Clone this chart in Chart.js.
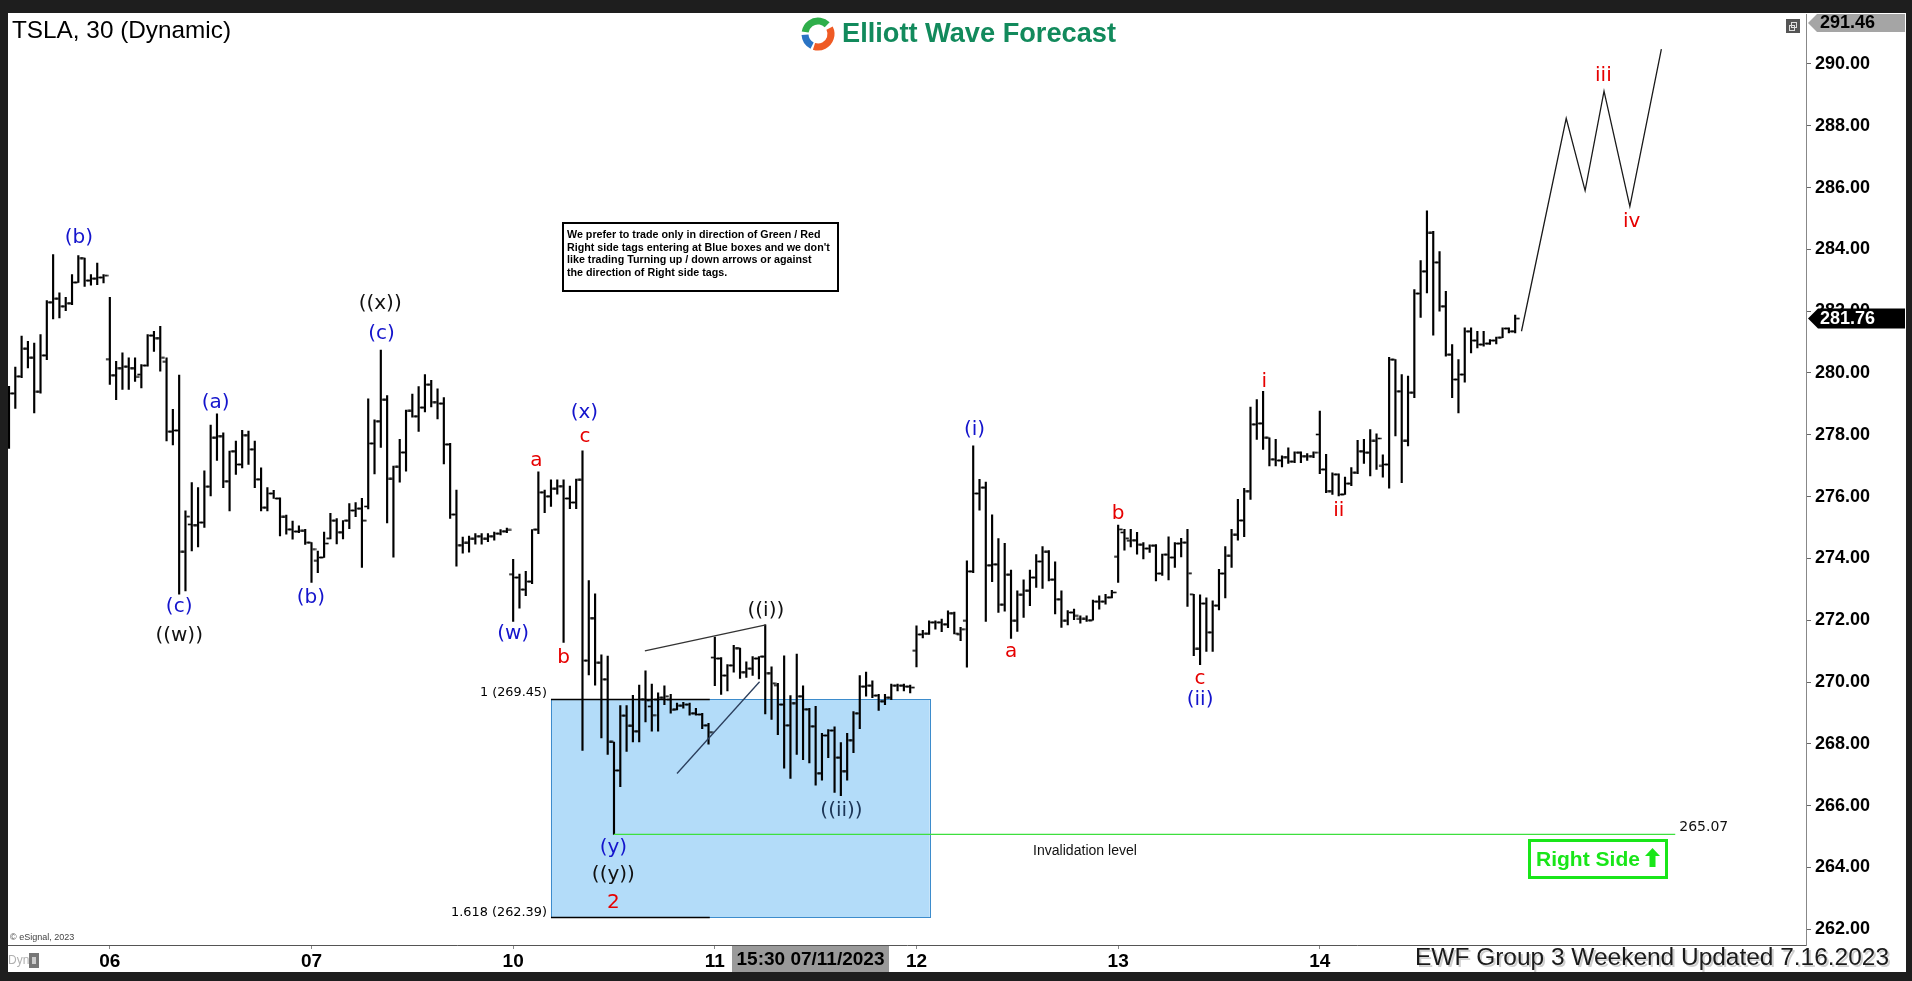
<!DOCTYPE html>
<html><head><meta charset="utf-8">
<script src="https://cdn.jsdelivr.net/npm/chart.js@4.4.0/dist/chart.umd.min.js"></script>
<style>html,body{margin:0;padding:0;background:#1e1e1e;overflow:hidden}canvas{display:block}</style>
</head><body>
<canvas id="c" width="1912" height="981"></canvas>
<script>
// ---- data (30-min bars, TSLA) ----
const opens = [277.98,279.34,279.89,280.78,280.49,279.39,280.57,282.29,282.40,282.16,
282.26,282.93,283.72,282.99,283.05,283.09,280.45,279.93,280.16,280.20,
280.16,279.95,280.24,281.21,281.13,280.36,278.10,278.14,274.21,275.10,
275.08,275.16,276.32,277.90,277.96,276.50,277.47,277.04,277.99,277.53,
276.56,275.64,276.10,275.94,275.34,274.94,274.87,274.89,274.51,273.92,
274.03,274.65,275.22,274.85,275.22,275.55,275.61,275.68,277.72,278.44,
279.13,276.57,276.96,277.43,278.77,278.60,278.88,279.62,279.06,279.01,
277.69,275.42,274.43,274.50,274.63,274.72,274.63,274.72,274.80,274.88,
273.49,273.38,272.99,273.25,274.93,276.14,276.01,276.25,276.34,275.94,
275.81,276.54,270.69,272.07,270.62,270.09,268.06,267.14,268.91,268.58,
268.41,269.44,269.21,269.43,269.49,269.43,269.12,269.23,269.27,268.99,
268.95,268.60,270.79,270.76,270.21,270.54,271.10,270.32,270.43,270.76,
270.82,270.29,269.90,269.27,268.60,269.32,269.54,269.12,268.57,267.05,
268.27,268.43,267.55,267.12,268.12,268.99,269.85,269.88,269.56,269.38,
269.49,269.88,269.88,269.85,271.01,271.54,271.56,271.93,271.93,271.87,
272.23,271.55,271.98,273.58,276.10,276.29,273.78,273.81,272.50,273.47,
271.98,272.82,272.95,273.38,273.90,274.21,273.31,272.68,271.98,272.25,
272.04,272.04,272.00,272.60,272.60,272.74,274.05,274.84,274.57,274.59,
274.44,274.32,274.41,273.51,274.12,274.03,274.48,274.51,272.84,271.07,
272.54,271.61,272.47,273.51,274.08,274.76,275.23,276.18,278.34,278.37,
277.90,277.21,277.17,277.28,277.13,277.42,277.31,277.31,278.01,276.88,
276.18,276.72,276.07,276.42,276.77,277.47,277.42,277.80,276.99,277.04,
280.43,279.41,277.80,279.36,282.57,283.29,284.53,283.58,282.16,280.59,
279.79,279.95,281.35,281.05,280.92,280.95,281.05,281.14,281.44,281.35];
const highs = [279.57,280.19,281.19,281.02,280.97,281.24,282.34,283.83,282.59,282.45,
283.18,283.80,283.72,283.18,283.56,283.18,282.45,280.38,280.65,280.49,
280.49,280.27,281.24,281.35,281.51,280.49,278.82,279.93,275.54,276.45,
276.29,276.83,278.31,278.68,278.06,277.47,277.80,278.14,278.12,277.80,
276.93,276.29,276.20,275.96,275.40,275.21,275.05,274.94,274.51,274.24,
274.85,275.46,275.29,275.22,275.77,275.81,275.94,279.16,278.48,280.74,
279.27,276.99,277.85,278.80,279.32,279.56,279.95,279.76,279.49,279.20,
277.72,276.21,274.69,274.72,274.80,274.80,274.80,274.85,274.93,274.98,
273.97,273.49,273.58,274.93,276.80,276.21,276.54,276.54,276.54,276.34,
276.57,277.48,273.28,272.85,270.88,270.84,268.06,269.24,269.24,269.57,
269.90,270.36,269.93,269.65,269.88,269.60,269.32,269.34,269.32,269.15,
268.99,268.66,271.45,270.79,270.56,271.19,271.10,270.65,270.82,270.82,
271.85,270.49,269.96,270.85,269.56,270.90,269.88,269.15,269.21,268.34,
268.46,268.55,268.04,268.34,269.04,270.21,270.32,270.04,269.60,269.60,
269.93,269.93,269.93,269.90,271.82,271.67,271.98,271.98,272.04,272.30,
272.26,271.77,273.92,277.64,276.56,276.47,275.41,274.64,274.49,273.62,
272.95,273.31,273.62,274.12,274.38,274.25,273.89,272.95,272.31,272.36,
272.14,272.14,272.65,272.79,272.84,272.97,275.08,274.94,274.94,274.84,
274.51,274.44,274.45,274.14,274.70,274.51,274.65,274.94,272.84,272.82,
272.72,272.63,273.65,274.38,274.94,275.91,276.27,278.90,279.14,279.41,
277.90,277.85,277.32,277.58,277.45,277.45,277.39,277.45,278.77,277.37,
276.77,276.74,276.63,276.94,277.82,277.85,278.17,278.03,277.35,280.51,
280.43,279.95,279.90,282.70,283.64,285.25,284.58,283.93,282.64,280.92,
280.43,281.46,281.46,281.35,281.35,281.08,281.16,281.46,281.46,281.87];
const lows = [277.56,278.85,279.85,280.16,278.71,279.35,280.43,281.75,281.78,282.02,
282.21,282.93,282.80,282.84,282.86,282.91,279.63,279.14,279.47,279.47,
279.73,279.52,280.22,280.70,280.06,277.80,277.67,272.84,272.95,274.24,
274.37,275.00,276.02,277.17,276.29,275.54,276.72,276.93,277.04,276.29,
275.54,275.54,275.94,274.73,274.78,274.62,274.83,274.45,273.22,273.54,
274.03,274.63,274.47,274.63,274.96,275.35,273.71,275.60,276.73,277.59,
275.15,274.04,276.47,276.82,278.57,278.11,278.74,278.90,278.51,277.06,
275.29,273.75,274.17,274.20,274.46,274.46,274.54,274.59,274.76,274.83,
271.96,272.39,272.79,273.18,274.80,275.48,275.68,276.08,271.28,275.61,
275.61,267.79,270.23,269.90,268.19,267.66,265.07,266.61,267.75,268.06,
268.06,268.71,268.41,268.41,269.27,268.99,269.10,269.15,268.93,268.93,
268.49,267.99,269.88,269.60,269.71,270.32,270.12,270.15,270.21,270.10,
268.97,268.79,268.30,267.21,266.88,267.66,267.49,267.38,266.66,266.82,
267.55,266.43,266.32,266.82,267.71,268.49,269.54,269.49,269.08,269.27,
269.43,269.71,269.71,269.65,270.49,271.43,271.54,271.71,271.63,271.76,
271.56,271.34,270.48,273.54,275.56,271.96,273.25,272.25,272.29,271.41,
271.64,272.09,272.47,273.06,273.03,273.27,272.20,271.77,271.85,272.02,
271.90,271.96,272.00,272.36,272.52,272.72,273.22,274.27,274.37,274.14,
273.98,274.19,273.27,273.45,273.30,273.71,274.05,272.45,270.85,270.56,
270.99,270.99,272.33,272.72,273.71,274.59,274.70,275.91,277.85,277.53,
276.99,276.99,276.96,277.07,277.10,277.10,277.17,277.26,276.74,276.13,
276.07,276.02,276.07,276.35,276.74,277.07,276.67,276.88,276.63,276.27,
277.96,276.45,277.64,279.20,281.80,282.59,281.22,282.00,280.54,279.20,
278.71,279.70,280.65,280.81,280.87,280.92,280.94,281.14,281.30,281.30];
const closes = [279.34,279.89,280.78,280.49,279.39,280.57,282.29,282.40,282.16,282.26,
282.93,283.72,282.99,283.05,283.09,283.15,279.93,280.16,280.20,280.16,
279.87,280.24,281.21,281.13,280.49,278.10,278.14,274.21,275.35,275.08,
275.16,276.32,277.90,277.96,276.50,277.47,277.04,277.99,277.53,276.56,
275.64,276.10,275.94,275.34,274.94,274.87,274.89,274.51,274.30,274.03,
274.48,275.22,274.85,275.22,275.55,275.61,275.22,277.72,278.44,279.13,
276.57,276.96,277.43,278.77,278.60,278.88,279.62,279.06,279.01,277.69,
275.42,274.43,274.50,274.63,274.72,274.63,274.72,274.80,274.88,274.92,
273.38,272.99,273.25,274.93,276.14,276.01,276.25,276.34,275.94,275.81,
276.54,270.69,272.07,270.62,270.09,268.06,267.14,268.91,268.58,268.41,
269.44,269.40,268.93,269.49,269.54,269.10,269.23,269.27,268.99,268.95,
268.60,268.38,270.76,270.21,270.54,271.10,270.32,270.43,270.76,270.82,
270.29,269.96,269.27,268.60,269.32,269.54,269.12,268.57,267.05,268.27,
268.43,267.55,267.12,268.12,268.99,269.85,269.88,269.56,269.38,269.49,
269.88,269.88,269.85,269.82,271.54,271.56,271.93,271.93,271.87,272.23,
271.56,271.71,273.58,276.10,276.29,273.78,273.81,272.50,273.47,271.98,
272.82,272.95,273.38,273.90,274.21,273.31,272.68,271.98,272.25,272.14,
272.04,272.00,272.60,272.60,272.74,272.90,274.94,274.65,274.59,274.44,
274.32,274.41,273.51,274.12,274.03,274.48,274.51,273.52,271.07,272.54,
271.61,272.47,273.51,274.08,274.76,275.23,276.18,278.34,278.37,277.90,
277.21,277.17,277.28,277.13,277.42,277.31,277.31,277.42,276.88,276.18,
276.72,276.07,276.42,276.77,277.47,277.42,277.80,277.88,277.04,280.43,
279.41,277.80,279.36,282.57,283.29,284.53,283.58,282.16,280.59,279.79,
279.95,281.35,281.05,280.92,280.95,281.05,281.14,281.44,281.35,281.76];

const dayIndex = [16, 48, 80, 112, 144, 176, 208];
const dayLabels = ['06', '07', '10', '11', '12', '13', '14'];
const priceTicks = [262,264,266,268,270,272,274,276,278,280,282,284,286,288,290];

// projected path (bar index, price)
const projX = [240, 247.1, 250.1, 253.1, 257.2, 262.2];
const projY = [281.35, 288.24, 285.90, 289.12, 285.39, 290.48];

const invalidationLevel = 265.07;
const invalidationFrom = 96, invalidationTo = 264.4;
const boxTop = 269.45, boxBottom = 262.39, boxFrom = 86, boxTo = 146.1, fibLineTo = 111.2;
const tri1X = [100.9, 120.1], tri1Y = [271.01, 271.85];
const tri2X = [106.0, 119.1], tri2Y = [267.04, 270.01];
const lastPrice = 281.76, topPrice = 291.46;

// wave labels
const waveText = ['(b)','(c)','((w))','(a)','(b)','((x))','(c)','(w)','a','b','(x)','c','(y)','((y))','2','((i))','((ii))','(i)','a','b','c','(ii)','i','ii','iii','iv'];
const waveX = [11.1,27.0,27.0,32.8,47.9,58.9,59.1,80.0,83.7,88.0,91.3,91.4,95.9,95.9,95.9,120.1,132.1,153.2,159.0,176.0,189.0,189.0,199.2,211.0,253.0,257.5];
const waveY = [284.37,272.44,271.49,279.05,272.71,282.24,281.26,271.57,277.16,270.78,278.70,277.95,264.63,263.77,262.86,272.32,265.82,278.15,270.98,275.43,270.11,269.44,279.72,275.55,289.61,284.88];
const waveKind = ['B','B','K','B','B','K','B','B','R','R','B','R','B','K','R','K','N','B','R','R','R','B','R','R','R','R'];
const kindColor = {B:'#1414cc', R:'#e60000', K:'#111111', N:'#1c3556'};

// ---- point styles for open/close ticks ----
function tickCanvas(left){
  const cv = document.createElement('canvas'); cv.width = 10; cv.height = 3;
  const g = cv.getContext('2d');
  const x0 = left ? 1 : 6;
  g.fillStyle = 'rgba(0,0,0,0.3)'; g.fillRect(x0, 0, 3.5, 3);
  g.fillStyle = '#000'; g.fillRect(x0, 1, 3.5, 1);
  return cv;
}
const leftTick = tickCanvas(true), rightTick = tickCanvas(false);

function fitSize(ctx, text, width, weight, family){
  ctx.font = weight + ' 100px ' + family;
  return 100 * width / ctx.measureText(text).width;
}

const deco = {
  id: 'deco',
  beforeDraw(chart){
    const c = chart.ctx; c.save();
    c.fillStyle = '#1e1e1e'; c.fillRect(0,0,1912,981);
    c.fillStyle = '#ffffff'; c.fillRect(8,13,1898,959);
    c.restore();
  },
  beforeDatasetsDraw(chart){
    const c = chart.ctx, xs = chart.scales.x, ys = chart.scales.y;
    c.save();
    const x1 = xs.getPixelForValue(boxFrom), x2 = xs.getPixelForValue(boxTo);
    const y1 = ys.getPixelForValue(boxTop), y2 = ys.getPixelForValue(boxBottom);
    c.fillStyle = '#b3dcf9'; c.fillRect(x1, y1, x2-x1, y2-y1);
    c.strokeStyle = '#3d8ccc'; c.lineWidth = 1; c.strokeRect(Math.round(x1)+0.5, Math.round(y1)+0.5, Math.round(x2-x1), Math.round(y2-y1));
    const xf = xs.getPixelForValue(fibLineTo);
    c.strokeStyle = '#000'; c.lineWidth = 1.5;
    c.beginPath(); c.moveTo(x1, Math.round(y1)+0.5); c.lineTo(xf, Math.round(y1)+0.5);
    c.moveTo(x1, Math.round(y2)+0.5); c.lineTo(xf, Math.round(y2)+0.5); c.stroke();
    c.fillStyle = '#000'; c.textAlign = 'right'; c.textBaseline = 'alphabetic';
    let s = fitSize(c, '1 (269.45)', 67, 'normal', '"DejaVu Sans"');
    c.font = s.toFixed(2) + 'px "DejaVu Sans"'; c.fillText('1 (269.45)', x1 - 4, y1 - 3);
    s = fitSize(c, '1.618 (262.39)', 96, 'normal', '"DejaVu Sans"');
    c.font = s.toFixed(2) + 'px "DejaVu Sans"'; c.fillText('1.618 (262.39)', x1 - 4, y2 - 1);
    c.restore();
  },
  afterDatasetsDraw(chart){
    const c = chart.ctx, xs = chart.scales.x, ys = chart.scales.y;
    c.save();
    c.textAlign = 'center'; c.textBaseline = 'middle';
    c.font = '20px "DejaVu Sans"';
    for (let k = 0; k < waveText.length; k++){
      c.fillStyle = kindColor[waveKind[k]];
      c.fillText(waveText[k], xs.getPixelForValue(waveX[k]), ys.getPixelForValue(waveY[k]));
    }
    // invalidation texts
    c.fillStyle = '#111'; c.textAlign = 'left'; c.textBaseline = 'alphabetic';
    c.font = '14px "DejaVu Sans"';
    c.fillText('265.07', xs.getPixelForValue(invalidationTo) + 4, ys.getPixelForValue(invalidationLevel) - 3);
    c.textAlign = 'center';
    let s = fitSize(c, 'Invalidation level', 104, 'normal', '"Liberation Sans"');
    c.font = s.toFixed(2) + 'px "Liberation Sans"';
    c.fillText('Invalidation level', 1085, 855);
    // Right side box
    c.strokeStyle = '#19e619'; c.lineWidth = 3;
    c.strokeRect(1529.5, 840.5, 137, 37);
    c.fillStyle = '#19e619'; c.textAlign = 'left'; c.textBaseline = 'middle';
    s = fitSize(c, 'Right Side', 104, 'bold', '"Liberation Sans Narrow", "Liberation Sans"');
    c.font = 'bold ' + s.toFixed(2) + 'px "Liberation Sans Narrow", "Liberation Sans"';
    c.fillText('Right Side', 1536, 860);
    c.beginPath();
    c.moveTo(1652.5, 848); c.lineTo(1660, 856); c.lineTo(1655.5, 856); c.lineTo(1655.5, 867);
    c.lineTo(1649.5, 867); c.lineTo(1649.5, 856); c.lineTo(1645, 856); c.closePath(); c.fill();
    c.restore();
  },
  afterDraw(chart){
    const c = chart.ctx, ys = chart.scales.y;
    c.save();
    // title
    c.fillStyle = '#000'; c.textAlign = 'left'; c.textBaseline = 'middle';
    let s = fitSize(c, 'TSLA, 30 (Dynamic)', 219, 'normal', '"Liberation Sans"');
    c.font = s.toFixed(2) + 'px "Liberation Sans"'; c.fillText('TSLA, 30 (Dynamic)', 12, 31);
    // logo
    const cx = 818, cy = 34, r = 13;
    c.lineWidth = 7; c.lineCap = 'butt';
    c.strokeStyle = '#2fae4a'; c.beginPath(); c.arc(cx, cy, r, Math.PI*1.05, Math.PI*1.75); c.stroke();
    c.strokeStyle = '#ef5a24'; c.beginPath(); c.arc(cx, cy, r, Math.PI*1.85, Math.PI*2.6); c.stroke();
    c.strokeStyle = '#2a73c4'; c.beginPath(); c.arc(cx, cy, r, Math.PI*0.65, Math.PI*0.98); c.stroke();
    c.fillStyle = '#128a5c';
    s = fitSize(c, 'Elliott Wave Forecast', 274, 'bold', '"Liberation Sans"');
    c.font = 'bold ' + s.toFixed(2) + 'px "Liberation Sans"'; c.fillText('Elliott Wave Forecast', 842, 34);
    // notice box
    c.fillStyle = '#fff'; c.fillRect(562, 222, 277, 70);
    c.strokeStyle = '#000'; c.lineWidth = 2; c.strokeRect(563, 223, 275, 68);
    c.fillStyle = '#000';
    const lines = ['We prefer to trade only in direction of Green / Red','Right side tags entering at Blue boxes and we don\'t','like trading Turning up / down arrows or against','the direction of Right side tags.'];
    s = fitSize(c, lines[1], 263, 'bold', '"Liberation Sans"');
    c.font = 'bold ' + s.toFixed(2) + 'px "Liberation Sans"';
    lines.forEach((t, k) => c.fillText(t, 567, 235 + k*12.6));
    // small window icon
    c.fillStyle = '#555'; c.fillRect(1786, 19, 14, 14);
    c.strokeStyle = '#ddd'; c.lineWidth = 1; c.strokeRect(1789.5, 25.5, 5, 5); c.strokeRect(1791.5, 22.5, 5, 5);
    // top price marker
    c.fillStyle = '#a5a5a5';
    c.beginPath(); c.moveTo(1808, 23); c.lineTo(1817, 14); c.lineTo(1905, 14); c.lineTo(1905, 32); c.lineTo(1817, 32); c.closePath(); c.fill();
    c.fillStyle = '#000'; c.font = 'bold 18px "Liberation Sans"'; c.textAlign = 'left';
    c.fillText(topPrice.toFixed(2), 1820, 23.5);
    // last price marker
    const yl = ys.getPixelForValue(lastPrice);
    c.fillStyle = '#000';
    c.beginPath(); c.moveTo(1808, yl); c.lineTo(1818, yl-10); c.lineTo(1905, yl-10); c.lineTo(1905, yl+10); c.lineTo(1818, yl+10); c.closePath(); c.fill();
    c.fillStyle = '#fff'; c.fillText(lastPrice.toFixed(2), 1820, yl + 0.5);
    // crosshair time label
    c.fillStyle = '#9a9a9a'; c.fillRect(732, 946, 157, 26);
    c.fillStyle = '#000'; c.textAlign = 'center';
    s = fitSize(c, '15:30 07/11/2023', 148, 'bold', '"Liberation Sans Narrow", "Liberation Sans"');
    c.font = 'bold ' + s.toFixed(2) + 'px "Liberation Sans Narrow", "Liberation Sans"';
    c.fillText('15:30 07/11/2023', 810.5, 960);
    // esignal + dyn
    c.textAlign = 'left'; c.fillStyle = '#444'; c.font = '9px "Liberation Sans"';
    c.fillText('\u00A9 eSignal, 2023', 10, 938);
    c.fillStyle = '#b0b0b0'; c.font = '12px "Liberation Sans Narrow", "Liberation Sans"';
    c.fillText('Dyn', 8, 961);
    c.fillStyle = '#777'; c.fillRect(29, 953, 10, 15);
    c.fillStyle = '#ccc'; c.fillRect(32, 957, 4, 7);
    // bottom banner
    c.textAlign = 'right';
    s = fitSize(c, 'EWF Group 3 Weekend Updated 7.16.2023', 474, 'normal', '"Liberation Sans"');
    c.font = s.toFixed(2) + 'px "Liberation Sans"';
    c.fillStyle = '#cfcfcf'; c.fillText('EWF Group 3 Weekend Updated 7.16.2023', 1891, 960);
    c.fillStyle = '#1a1a1a'; c.fillText('EWF Group 3 Weekend Updated 7.16.2023', 1889, 958);
    c.restore();
  }
};

const barData = highs.map((h, i) => ({x: i, y: [Math.min(lows[i], opens[i], closes[i]), Math.max(h, opens[i], closes[i])]}));
const openData = opens.map((v, i) => ({x: i, y: v}));
const closeData = closes.map((v, i) => ({x: i, y: v}));
const projData = projX.map((v, i) => ({x: v, y: projY[i]}));

new Chart(document.getElementById('c'), {
  type: 'bar',
  data: {
    datasets: [
      {type: 'line', data: projData, borderColor: '#1a1a1a', borderWidth: 1.3, pointRadius: 0, tension: 0},
      {type: 'line', data: [{x: invalidationFrom, y: invalidationLevel}, {x: invalidationTo, y: invalidationLevel}], borderColor: '#3ee03e', borderWidth: 1.2, pointRadius: 0},
      {type: 'line', data: tri1X.map((v,i)=>({x:v, y:tri1Y[i]})), borderColor: '#333', borderWidth: 1.3, pointRadius: 0},
      {type: 'line', data: tri2X.map((v,i)=>({x:v, y:tri2Y[i]})), borderColor: '#2b3e5c', borderWidth: 1.3, pointRadius: 0},
      {type: 'scatter', data: openData, pointStyle: leftTick, pointRadius: 3, pointHoverRadius: 3},
      {type: 'scatter', data: closeData, pointStyle: rightTick, pointRadius: 3, pointHoverRadius: 3},
      {type: 'bar', data: barData, backgroundColor: '#000', borderWidth: 0, barThickness: 1.5, grouped: false}
    ]
  },
  options: {
    responsive: false, animation: false, devicePixelRatio: 1,
    layout: {padding: {left: 8, top: 13, right: 6, bottom: 9}},
    plugins: {legend: {display: false}, tooltip: {enabled: false}},
    events: [],
    scales: {
      x: {
        type: 'linear', position: 'bottom', min: -0.16, max: 285.15, offset: false,
        afterFit(s){ s.height = 27; },
        afterBuildTicks(s){ s.ticks = dayIndex.map(v => ({value: v})); },
        ticks: {autoSkip: false, maxRotation: 0, padding: 1, color: '#000',
          font: {family: '"Liberation Sans Narrow", "Liberation Sans"', weight: 'bold', size: 19},
          callback: (v) => dayLabels[dayIndex.indexOf(v)] || ''},
        grid: {drawOnChartArea: false, drawTicks: true, tickLength: 4, color: '#888', offset: false},
        border: {color: '#555', width: 1}
      },
      y: {
        type: 'linear', position: 'right', min: 261.49, max: 291.59,
        afterFit(s){ s.width = 100; },
        afterBuildTicks(s){ s.ticks = priceTicks.map(v => ({value: v})); },
        ticks: {padding: 4, color: '#000', font: {family: '"Liberation Sans"', weight: 'bold', size: 18},
          callback: (v) => v.toFixed(2)},
        grid: {drawOnChartArea: false, drawTicks: true, tickLength: 5, color: '#666'},
        border: {color: '#888', width: 1}
      }
    }
  },
  plugins: [deco]
});
</script>
</body></html>
